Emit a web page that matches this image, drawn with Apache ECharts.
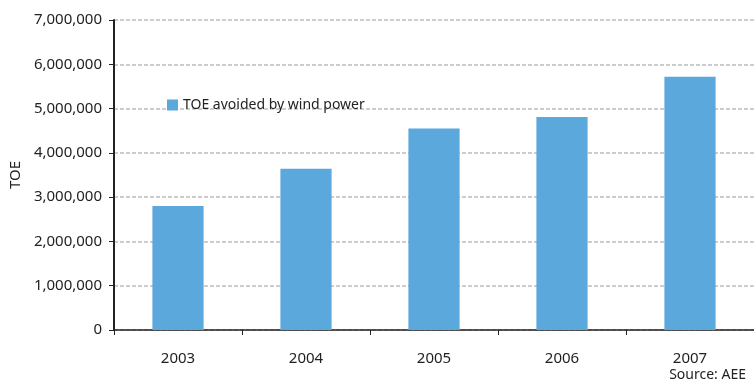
<!DOCTYPE html>
<html lang="en">
<head>
    <meta charset="UTF-8">
    <title>TOE avoided by wind power</title>
    <style>
        html, body { margin: 0; padding: 0; background: #fff; }
        #chart { width: 754px; height: 383px; }
    </style>
</head>
<body>
<div id="chart"></div>
<script src="https://cdn.jsdelivr.net/npm/echarts@6/dist/echarts.min.js"></script>
<script>
    var years = ['2003', '2004', '2005', '2006', '2007'];
    var toeAvoided = [2800000, 3640000, 4550000, 4810000, 5720000];
    var seriesName = 'TOE avoided by wind power';

    var font = '"Noto Sans", sans-serif';
    var myChart = echarts.init(document.getElementById('chart'));

    var option = {
        backgroundColor: '#fff',
        textStyle: { fontFamily: font },
        grid: { left: 114, right: -6, top: 20, bottom: 53 },
        legend: {
            data: [seriesName],
            left: 162,
            top: 93,
            itemWidth: 11,
            itemHeight: 11,
            itemGap: 6,
            icon: 'rect',
            textStyle: { fontSize: 14, color: '#222', fontFamily: font }
        },
        xAxis: {
            type: 'category',
            data: years,
            axisLine: { lineStyle: { color: '#222', width: 1.5 } },
            axisTick: { show: true, length: 5, alignWithLabel: false, lineStyle: { color: '#222' } },
            axisLabel: { fontSize: 15, color: '#222', margin: 21, fontFamily: font }
        },
        yAxis: {
            type: 'value',
            min: 0,
            max: 7000000,
            interval: 1000000,
            name: 'TOE',
            nameLocation: 'middle',
            nameRotate: 90,
            nameGap: 90,
            nameTextStyle: { fontSize: 15, color: '#222', fontFamily: font },
            axisLine: { show: true, lineStyle: { color: '#222', width: 2 } },
            axisTick: { show: true, length: 5, lineStyle: { color: '#222' } },
            axisLabel: {
                fontSize: 15,
                color: '#222',
                margin: 12,
                fontFamily: font,
                formatter: function (v) { return v.toLocaleString('en-US'); }
            },
            splitLine: { show: true, lineStyle: { color: '#bdbdbd', width: 1.5, type: [4, 2] } }
        },
        graphic: [{
            type: 'text',
            right: 8,
            bottom: 1,
            style: { text: 'Source: AEE', font: '14px ' + font, fill: '#222' }
        }],
        series: [{
            name: seriesName,
            type: 'bar',
            data: toeAvoided,
            barWidth: '40%',
            itemStyle: { color: '#5ba8dc' }
        }]
    };
    myChart.setOption(option);
</script>
</body>
</html>
